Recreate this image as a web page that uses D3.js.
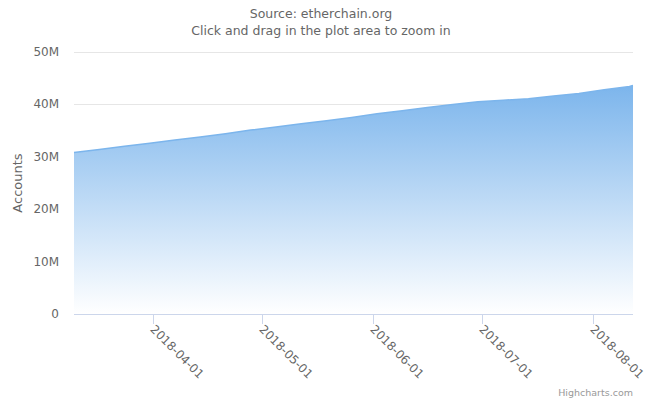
<!DOCTYPE html>
<html><head><meta charset="utf-8">
<script src="https://cdn.jsdelivr.net/npm/d3@7"></script>
<style>body{margin:0;background:#fff;}svg{display:block;font-family:"Lucida Grande","DejaVu Sans",Arial,sans-serif;}</style>
</head><body>
<svg id="c" width="657" height="401"></svg>
<script>
const dates = ["2018-03-10","2018-03-17","2018-03-24","2018-03-31","2018-04-07","2018-04-14","2018-04-21","2018-04-28","2018-05-05","2018-05-12","2018-05-19","2018-05-26","2018-06-02","2018-06-09","2018-06-16","2018-06-23","2018-06-30","2018-07-07","2018-07-14","2018-07-21","2018-07-28","2018-08-04","2018-08-11","2018-08-12"];
const accounts = [30.8,31.4,32.0,32.6,33.2,33.8,34.4,35.1,35.7,36.3,36.9,37.5,38.2,38.8,39.4,40.0,40.5,40.8,41.1,41.6,42.1,42.8,43.4,43.6].map(v=>v*1e6);
const yTicks = [0,10e6,20e6,30e6,40e6,50e6];
const yTickLabels = ["0","10M","20M","30M","40M","50M"];
const xTicks = ["2018-04-01","2018-05-01","2018-06-01","2018-07-01","2018-08-01"];
const titleLines = ["Source: etherchain.org","Click and drag in the plot area to zoom in"];
const yTitle = "Accounts";
const credits = "Highcharts.com";

const parse = d3.utcParse("%Y-%m-%d");
const data = dates.map((d,i)=>({date:parse(d), v:accounts[i]}));
const svg = d3.select("#c");
const L=74, R=633, T=52, B=314;
const x = d3.scaleUtc().domain([data[0].date, data[data.length-1].date]).range([L,R]);
const y = d3.scaleLinear().domain([0,50e6]).range([B,T]);

const defs = svg.append("defs");
const g = defs.append("linearGradient").attr("id","grad").attr("x1",0).attr("y1",0).attr("x2",0).attr("y2",1);
g.append("stop").attr("offset",0).attr("stop-color","#7cb5ec").attr("stop-opacity",1);
g.append("stop").attr("offset",1).attr("stop-color","#ffffff").attr("stop-opacity",1);

// title
svg.selectAll("text.title").data(titleLines).enter().append("text")
  .attr("x",321).attr("y",(d,i)=>18+i*17).attr("text-anchor","middle")
  .attr("fill","#666").style("font-size","12.5px").text(d=>d);

// grid
svg.append("g").selectAll("line").data(yTicks).enter().append("line")
  .attr("x1",L).attr("x2",R).attr("y1",d=>y(d)).attr("y2",d=>y(d))
  .attr("stroke","#e6e6e6").attr("stroke-width",1).attr("shape-rendering","crispEdges");

// y labels
svg.append("g").selectAll("text").data(yTicks).enter().append("text")
  .attr("x",59).attr("y",d=>y(d)+4).attr("text-anchor","end")
  .attr("fill","#666").style("font-size","12px").text((d,i)=>yTickLabels[i]);

svg.append("text").attr("transform","translate(22,183) rotate(-90)")
  .attr("text-anchor","middle").attr("fill","#666").style("font-size","13px").text(yTitle);

// area
const area = d3.area().x(d=>x(d.date)).y0(y(0)).y1(d=>y(d.v));
svg.append("path").datum(data).attr("d",area).attr("fill","url(#grad)");
const line = d3.line().x(d=>x(d.date)).y(d=>y(d.v));
svg.append("path").datum(data).attr("d",line).attr("fill","none").attr("stroke","#7cb5ec").attr("stroke-width",1.5);

// x axis
svg.append("line").attr("x1",L).attr("x2",R).attr("y1",B+0.5).attr("y2",B+0.5).attr("stroke","#ccd6eb");
const xt = svg.append("g").selectAll("g").data(xTicks.map(parse)).enter().append("g")
  .attr("transform",d=>`translate(${Math.round(x(d))+0.5},0)`);
xt.append("line").attr("y1",B).attr("y2",B+10).attr("stroke","#ccd6eb");
xt.append("text").attr("transform",`translate(-4,${B+16}) rotate(45)`).attr("text-anchor","start")
  .attr("fill","#666").style("font-size","12px").text(d=>d3.utcFormat("%Y-%m-%d")(d));

svg.append("text").attr("x",633).attr("y",396).attr("text-anchor","end")
  .attr("fill","#999").style("font-size","9.5px").text(credits);
</script>
</body></html>
